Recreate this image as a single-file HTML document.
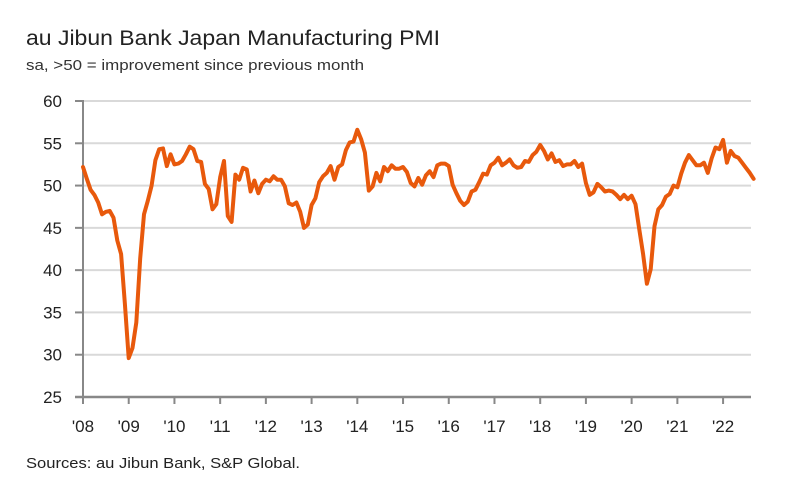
<!DOCTYPE html>
<html><head><meta charset="utf-8"><style>
body{margin:0;background:#fff;width:811px;height:486px;overflow:hidden;font-family:"Liberation Sans",sans-serif;}
</style></head><body>
<svg width="811" height="486">
<text x="26" y="45" font-size="21" fill="#222" textLength="414" lengthAdjust="spacingAndGlyphs">au Jibun Bank Japan Manufacturing PMI</text>
<text x="26" y="70" font-size="15" fill="#333" textLength="338" lengthAdjust="spacingAndGlyphs">sa, &gt;50 = improvement since previous month</text>
<g id="grid"></g><g id="axes"></g><g id="series"></g>
<text x="26" y="468" font-size="15" fill="#222" textLength="274" lengthAdjust="spacingAndGlyphs">Sources: au Jibun Bank, S&amp;P Global.</text>
</svg>
<script>
const yTicks=[25,30,35,40,45,50,55,60];
const xLabels=["'08","'09","'10","'11","'12","'13","'14","'15","'16","'17","'18","'19","'20","'21","'22"];
const pmi2008=[52.2,50.8,49.5,48.9,48.0,46.6,46.9,47.0,46.2,43.5,41.9,36.0];
const pmi2009=[29.6,30.8,33.8,41.4,46.6,48.2,50.0,53.0,54.3,54.4,52.3,53.7];
const pmi2010=[52.5,52.6,52.9,53.7,54.6,54.3,52.9,52.8,50.2,49.6,47.2,47.8];
const pmi2011=[51.0,52.9,46.4,45.7,51.3,50.7,52.1,51.9,49.3,50.6,49.1,50.2];
const pmi2012=[50.7,50.5,51.1,50.7,50.7,49.9,47.9,47.7,48.0,46.9,45.0,45.4];
const pmi2013=[47.7,48.5,50.4,51.1,51.5,52.3,50.7,52.2,52.5,54.2,55.1,55.2];
const pmi2014=[56.6,55.5,53.9,49.4,49.9,51.5,50.5,52.2,51.7,52.4,52.0,52.0];
const pmi2015=[52.2,51.6,50.3,49.9,50.9,50.1,51.2,51.7,51.0,52.4,52.6,52.6];
const pmi2016=[52.3,50.1,49.1,48.2,47.7,48.1,49.3,49.5,50.4,51.4,51.3,52.4];
const pmi2017=[52.7,53.3,52.4,52.7,53.1,52.4,52.1,52.2,52.9,52.8,53.6,54.0];
const pmi2018=[54.8,54.1,53.1,53.8,52.8,53.0,52.3,52.5,52.5,52.9,52.2,52.6];
const pmi2019=[50.3,48.9,49.2,50.2,49.8,49.3,49.4,49.3,48.9,48.4,48.9,48.4];
const pmi2020=[48.8,47.8,44.8,41.9,38.4,40.1,45.2,47.2,47.7,48.7,49.0,50.0];
const pmi2021=[49.8,51.4,52.7,53.6,53.0,52.4,52.4,52.7,51.5,53.2,54.5,54.3];
const pmi2022=[55.4,52.7,54.1,53.5,53.3,52.7,52.1,51.5,50.8];
const values=[].concat(pmi2008,pmi2009,pmi2010,pmi2011,pmi2012,pmi2013,pmi2014,pmi2015,pmi2016,pmi2017,pmi2018,pmi2019,pmi2020,pmi2021,pmi2022);
const NS='http://www.w3.org/2000/svg';
const x0=83,monthW=3.81,yTop=101,yBot=397,yMin=25,yMax=60,xRight=751;
const xScale=i=>x0+i*monthW;
const yScale=v=>yBot-(v-yMin)/(yMax-yMin)*(yBot-yTop);
function mk(tag,attrs,parent){const e=document.createElementNS(NS,tag);for(const k in attrs)e.setAttribute(k,attrs[k]);parent.appendChild(e);return e;}
const grid=document.getElementById('grid'),axes=document.getElementById('axes'),series=document.getElementById('series');
yTicks.forEach(t=>{const y=yScale(t);
 if(t>yMin){const g=mk('line',{x1:x0,x2:xRight,y1:y,y2:y,stroke:'#d9d9d9','stroke-width':2},grid);
 
 }
 const tk=mk('line',{x1:75,x2:x0,y1:y,y2:y,stroke:'#888','stroke-width':2},axes);
 
 
 const tx=mk('text',{x:62,y:y+6,'font-size':17,'text-anchor':'end',fill:'#222'},axes);tx.textContent=t;
 
 
});
const ya=mk('line',{x1:x0,x2:x0,y1:yTop-1,y2:yBot,stroke:'#888','stroke-width':2},axes);


const xa=mk('line',{x1:x0-8,x2:xRight,y1:yBot,y2:yBot,stroke:'#888','stroke-width':2.5},axes);


xLabels.forEach((l,i)=>{const x=xScale(i*12);
 const tk=mk('line',{x1:x,x2:x,y1:yBot,y2:yBot+7,stroke:'#888','stroke-width':2},axes);
 
 
 const tx=mk('text',{x:x,y:432,'font-size':17,'text-anchor':'middle',fill:'#222'},axes);tx.textContent=l;
 
 
});
const d=values.map((v,i)=>(i?'L':'M')+xScale(i).toFixed(1)+','+yScale(v).toFixed(1)).join(' ');
const p=mk('path',{d:d,fill:'none',stroke:'#e8590c','stroke-width':4,'stroke-linejoin':'round','stroke-linecap':'round'},series);


</script>
</body></html>
